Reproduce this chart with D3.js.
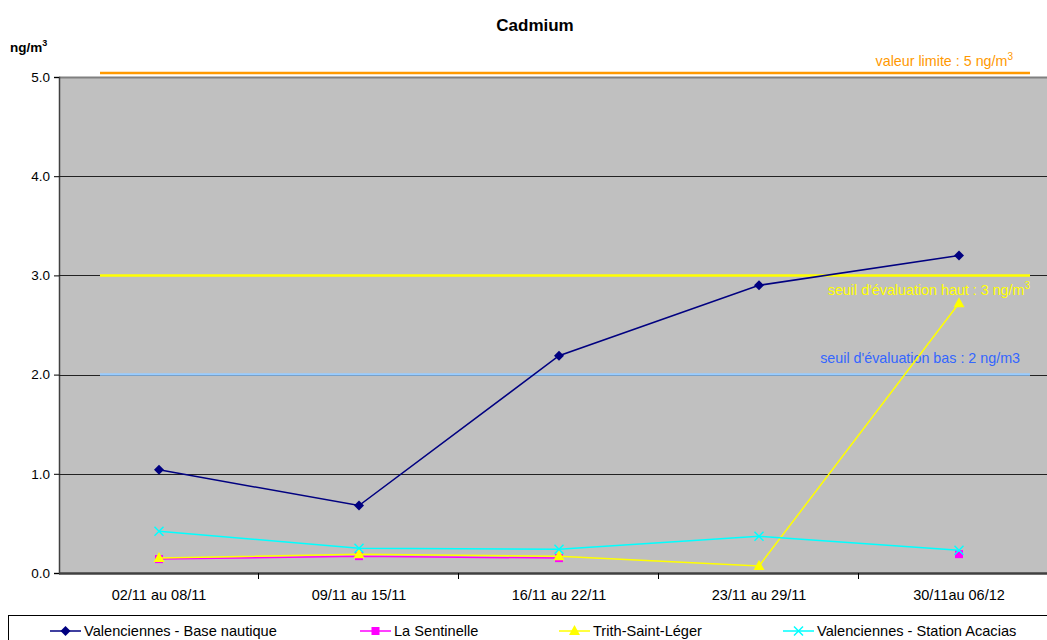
<!DOCTYPE html>
<html><head><meta charset="utf-8">
<script src="https://cdn.jsdelivr.net/npm/d3@7"></script>
<style>
body{margin:0;background:#fff;}
svg text{font-family:"Liberation Sans",Arial,sans-serif;}
</style></head>
<body><svg id="c" width="1047" height="640"></svg>
<script>
const categories = ["02/11 au 08/11","09/11 au 15/11","16/11 au 22/11","23/11 au 29/11","30/11au 06/12"];
const baseNautique = [1.04, 0.68, 2.19, 2.90, 3.20];
const laSentinelle = [0.14, 0.17, 0.15, null, 0.19];
const trith = [0.15, 0.19, 0.17, 0.07, 2.72];
const acacias = [0.42, 0.25, 0.24, 0.37, 0.23];
const seriesNames = ["Valenciennes - Base nautique","La Sentinelle","Trith-Saint-Léger","Valenciennes - Station Acacias"];
const seriesColors = ["#000080","#FF00FF","#FFFF00","#00FFFF"];
const seriesMarkers = ["diamond","square","triangle","x"];
const yTicks = [0,1,2,3,4,5];
const thresholdValues = [5.04, 3, 2];
const thresholdColors = ["#FF9900","#FFFF00","#99CCFF"];
const thresholdLabelColors = ["#FF9900","#FFFF00","#3366FF"];
const thresholdLabels = [["valeur limite : 5 ng/m","3"],["seuil d'évaluation haut : 3 ng/m","3"],["seuil d'évaluation bas : 2 ng/m3",""]];

const svg = d3.select("#c");
const L=59, R=1059, T=77, B=573;
const x = d3.scaleBand().domain(categories).range([L,R]);
const y = d3.scaleLinear().domain([0,5]).range([B,T]);

// plot background
svg.append("rect").attr("x",L).attr("y",T).attr("width",R-L).attr("height",B-T).attr("fill","#C0C0C0");
svg.append("line").attr("x1",L).attr("x2",R).attr("y1",T+0.5).attr("y2",T+0.5).attr("stroke","#808080").attr("stroke-width",2);

// y axis with gridlines
const yAxis = svg.append("g").attr("transform",`translate(${L},0)`)
  .call(d3.axisLeft(y).tickValues(yTicks).tickFormat(d3.format(".1f")).tickSize(5).tickPadding(4));
yAxis.select(".domain").attr("stroke","#404040").attr("stroke-width",1.5);
yAxis.selectAll(".tick line").attr("stroke","#000");
yAxis.selectAll(".tick text").attr("font-size","13.5px").attr("fill","#000");
svg.append("g").selectAll("line").data(yTicks.filter(d=>d>0&&d<5)).join("line")
  .attr("x1",L).attr("x2",R).attr("y1",d=>Math.round(y(d))+0.5).attr("y2",d=>Math.round(y(d))+0.5)
  .attr("stroke","#222").attr("stroke-width",1);

// x axis
const xAxis = svg.append("g").attr("transform",`translate(0,${B})`)
  .call(d3.axisBottom(x).tickSize(0).tickPadding(17));
xAxis.select(".domain").remove();
xAxis.selectAll(".tick text").attr("font-size","14.5px").attr("fill","#000");
svg.append("line").attr("x1",L).attr("x2",R).attr("y1",B+0.5).attr("y2",B+0.5).attr("stroke","#404040").attr("stroke-width",2.5);
svg.append("g").selectAll("line").data(categories.slice(1)).join("line")
  .attr("x1",d=>x(d)-0.5).attr("x2",d=>x(d)-0.5).attr("y1",B).attr("y2",B+6).attr("stroke","#000");

// thresholds
thresholdValues.forEach((v,i)=>{
  svg.append("line").attr("x1",100).attr("x2",1030).attr("y1",y(v)).attr("y2",y(v))
    .attr("stroke",thresholdColors[i]).attr("stroke-width",2.5);
});
const labelPos = [[1013,66],[1030,295],[1020,363]];
thresholdLabels.forEach((lab,i)=>{
  const t = svg.append("text").attr("x",labelPos[i][0]).attr("y",labelPos[i][1])
    .attr("text-anchor","end").attr("font-size","14.3px").attr("fill",thresholdLabelColors[i]);
  t.append("tspan").text(lab[0]);
  if(lab[1]) t.append("tspan").attr("dy","-6").attr("font-size","10px").text(lab[1]);
});

// series
const allSeries = [baseNautique, laSentinelle, trith, acacias];
const cx = c => x(c)+x.bandwidth()/2;
function marker(g, type, color, px, py){
  if(type==="diamond") g.append("path").attr("d",`M${px},${py-5}L${px+5},${py}L${px},${py+5}L${px-5},${py}Z`).attr("fill",color);
  else if(type==="square") g.append("rect").attr("x",px-4).attr("y",py-4).attr("width",8).attr("height",8).attr("fill",color);
  else if(type==="triangle") g.append("path").attr("d",`M${px},${py-6}L${px+5.5},${py+4}L${px-5.5},${py+4}Z`).attr("fill",color);
  else if(type==="x") g.append("path").attr("d",`M${px-4.5},${py-4.5}L${px+4.5},${py+4.5}M${px-4.5},${py+4.5}L${px+4.5},${py-4.5}`).attr("stroke",color).attr("stroke-width",1.5).attr("fill","none");
}
const line = d3.line().defined(d=>d.v!=null).x(d=>cx(d.c)).y(d=>y(d.v));
allSeries.forEach((vals,i)=>{
  const data = categories.map((c,j)=>({c, v: vals[j]}));
  const g = svg.append("g");
  g.append("path").datum(data).attr("d",line).attr("fill","none").attr("stroke",seriesColors[i]).attr("stroke-width",1.5);
  data.filter(d=>d.v!=null).forEach(d=>marker(g, seriesMarkers[i], seriesColors[i], cx(d.c), y(d.v)));
});

// title
svg.append("text").attr("x",535).attr("y",31).attr("text-anchor","middle").attr("font-size","17px").attr("font-weight","bold").text("Cadmium");
const u = svg.append("text").attr("x",10).attr("y",52).attr("font-size","13.5px").attr("font-weight","bold");
u.append("tspan").text("ng/m");
u.append("tspan").attr("dy","-6").attr("font-size","9px").text("3");

// legend
svg.append("rect").attr("x",8.5).attr("y",615.5).attr("width",1045).attr("height",40).attr("fill","#fff").attr("stroke","#000");
const legX = [50, 360, 559, 783];
seriesNames.forEach((n,i)=>{
  const g = svg.append("g");
  g.append("line").attr("x1",legX[i]).attr("x2",legX[i]+31).attr("y1",631).attr("y2",631).attr("stroke",seriesColors[i]).attr("stroke-width",1.5);
  marker(g, seriesMarkers[i], seriesColors[i], legX[i]+15.5, 631);
  g.append("text").attr("x",legX[i]+34).attr("y",636).attr("font-size","14.6px").text(n);
});
</script></body></html>
